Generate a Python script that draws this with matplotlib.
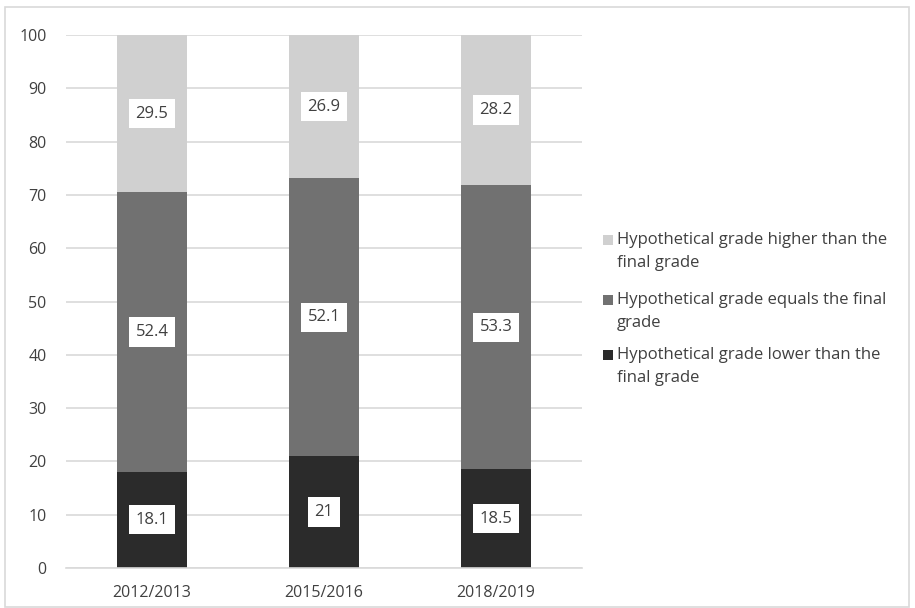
import numpy as np
import matplotlib
matplotlib.use("Agg")
import matplotlib.pyplot as plt
from matplotlib.patches import Rectangle

plt.rcParams['font.family'] = ['Open Sans', 'DejaVu Sans']

# Data
years = ["2012/2013", "2015/2016", "2018/2019"]
lower = [18.1, 21, 18.5]
equal = [52.4, 52.1, 53.3]
higher = [29.5, 26.9, 28.2]
series_names = [
    "Hypothetical grade lower than the\nfinal grade",
    "Hypothetical grade equals the final\ngrade",
    "Hypothetical grade higher than the\nfinal grade",
]
colors = ["#2b2b2b", "#717171", "#d0d0d0"]

W, H = 915, 608
fig = plt.figure(figsize=(W / 100, H / 100), dpi=100)
ax = fig.add_axes([66 / W, 1 - 568 / H, 516 / W, 533 / H])

# outer chart border
fig.patches.append(Rectangle((5 / W, 1 / H), 904 / W, 600 / H,
                             transform=fig.transFigure, fill=False,
                             edgecolor="#d9d9d9", linewidth=1.2))

x = np.arange(len(years))
width = 0.41
bottom = np.zeros(len(years))
for vals, col, name in zip([lower, equal, higher], colors, series_names):
    ax.bar(x, vals, width, bottom=bottom, color=col, label=name, zorder=2)
    for xi, v, bt in zip(x, vals, bottom):
        ax.text(xi, bt + v / 2, f"{v:g}", ha="center", va="center",
                fontsize=12, color="#404040", zorder=3,
                bbox=dict(boxstyle="square,pad=0.4", facecolor="white",
                          edgecolor="none"))
    bottom = bottom + np.array(vals)

ax.set_xlim(-0.5, 2.5)
ax.set_ylim(0, 100)
ax.set_yticks(np.arange(0, 101, 10))
ax.set_xticks(x)
ax.set_xticklabels(years)
ax.tick_params(axis="both", length=0, labelsize=11.5, labelcolor="#404040")
ax.tick_params(axis="x", pad=12)
ax.tick_params(axis="y", pad=14)
ax.grid(axis="y", color="#d9d9d9", linewidth=1.2, zorder=0)
for s in ["top", "right", "left"]:
    ax.spines[s].set_visible(False)
ax.spines["bottom"].set_color("#d9d9d9")
ax.spines["bottom"].set_linewidth(1.2)

# legend drawn by hand so the swatch lines up with the first text line
legend_rows = [240, 300, 355]
for name, col, yrow in zip(series_names[::-1], colors[::-1], legend_rows):
    fig.patches.append(Rectangle((603 / W, 1 - (yrow + 5) / H), 10 / W, 10 / H,
                                 transform=fig.transFigure, facecolor=col,
                                 edgecolor="none"))
    fig.text(617 / W, 1 - (yrow - 8) / H, name, ha="left", va="top",
             fontsize=12, color="#404040", linespacing=1.55)

fig.savefig("out.png", dpi=100)
